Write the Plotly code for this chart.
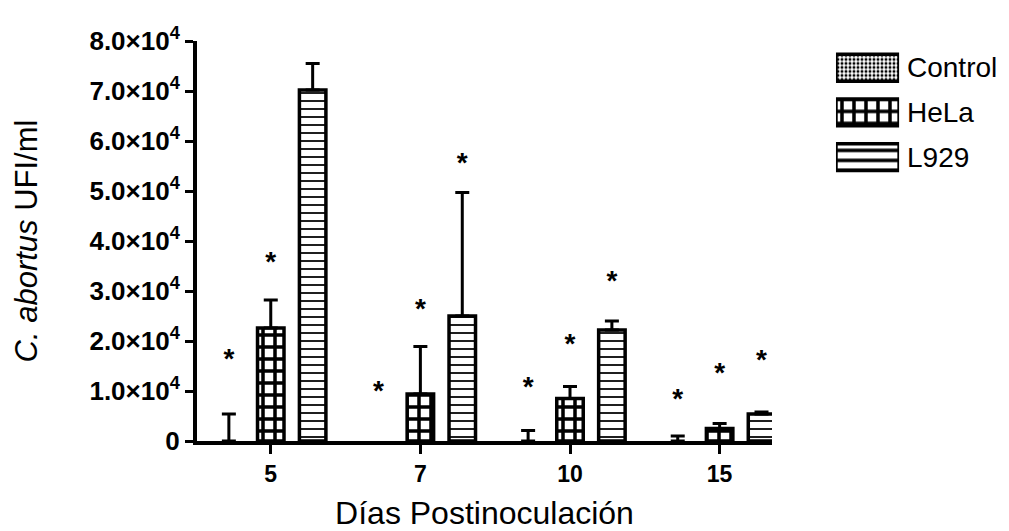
import numpy as np
import plotly.graph_objects as go

# ---- data ----
days = ["5", "7", "10", "15"]
series = ["Control", "HeLa", "L929"]
control_mean = [0, None, 0, 0]
control_err = [5400, 0, 2100, 1000]
hela_mean = [22600, 9400, 8500, 2500]
hela_err = [5600, 9500, 2400, 1000]
l929_mean = [70200, 25000, 22200, 5400]
l929_err = [5300, 24700, 1800, 400]
control_star = [16000, 9700, 10400, 8000]
hela_star = [35400, 26000, 19000, 13300]
l929_star = [83000, 55300, 31700, 15800]
y_tickvals = [0, 10000, 20000, 30000, 40000, 50000, 60000, 70000, 80000]
y_ticktext = ["0"] + [f"{v}.0×10<sup>4</sup>" for v in range(1, 9)]

means = [control_mean, hela_mean, l929_mean]
errs = [control_err, hela_err, l929_err]
stars = [control_star, hela_star, l929_star]
patterns = [
    dict(shape=".", size=4, solidity=0.45, fgcolor="black", bgcolor="white", fillmode="replace"),
    dict(shape="+", size=12, solidity=0.5, fgcolor="black", bgcolor="white", fillmode="replace"),
    dict(shape="-", size=8, solidity=0.22, fgcolor="black", bgcolor="white", fillmode="replace"),
]
legend_patterns = [
    dict(shape=".", size=4, solidity=0.45, fgcolor="black", bgcolor="white", fillmode="replace"),
    dict(shape="+", size=12, solidity=0.5, fgcolor="black", bgcolor="white", fillmode="replace"),
    dict(shape="-", size=10, solidity=0.35, fgcolor="black", bgcolor="white", fillmode="replace"),
]

base = np.arange(len(days))
slot = 0.28
bar_w = 0.177

fig = go.Figure()
for k in range(3):
    xs = base + (k - 1) * slot
    line_w = [3.5 if (v or 0) > 0 else 0 for v in means[k]]
    fig.add_trace(go.Bar(
        x=xs, y=means[k], width=bar_w, name=series[k],
        marker=dict(color="white", pattern=patterns[k], line=dict(color="black", width=line_w)),
        error_y=dict(type="data", symmetric=False, array=errs[k], arrayminus=[0] * len(days),
                     color="black", thickness=3, width=7),
        showlegend=False, cliponaxis=False,
    ))
for k in range(3):
    xs = base + (k - 1) * slot
    fig.add_trace(go.Scatter(
        x=xs, y=stars[k], mode="text", text=["*"] * len(days),
        textposition="middle center",
        textfont=dict(family="Liberation Sans", size=28, color="black", weight="bold"),
        showlegend=False, cliponaxis=False, hoverinfo="skip",
    ))

# custom legend drawn as bars on an auxiliary axis
for k in range(3):
    fig.add_trace(go.Bar(
        x=[1], y=[k], orientation="h", width=0.6, xaxis="x2", yaxis="y2",
        marker=dict(color="white", pattern=legend_patterns[k], line=dict(color="black", width=3.5)),
        showlegend=False, hoverinfo="skip",
    ))
    fig.add_annotation(x=0.877, xref="paper", y=k, yref="y2", text=series[k],
                       showarrow=False, xanchor="left", yanchor="middle",
                       font=dict(family="Liberation Sans", size=28, color="black"))

fig.update_layout(
    width=1009, height=531,
    margin=dict(l=197, r=5, t=41, b=90, autoexpand=False),
    paper_bgcolor="white", plot_bgcolor="white",
    barmode="overlay",
    font=dict(family="Liberation Sans", color="black"),
    xaxis=dict(
        domain=[0, 0.7125], range=[-0.493, 3.35], automargin=False,
        tickvals=list(base), ticktext=days,
        showline=True, linecolor="black", linewidth=4,
        ticks="outside", ticklen=9, tickwidth=3, tickcolor="black",
        tickfont=dict(family="Liberation Sans", size=23, color="black", weight="bold"),
        showgrid=False, zeroline=False,
        title=dict(text="Días Postinoculación", standoff=26,
                   font=dict(family="Liberation Sans", size=32, color="black")),
    ),
    yaxis=dict(
        range=[0, 80000], tickvals=y_tickvals, ticktext=y_ticktext, automargin=False,
        showline=True, linecolor="black", linewidth=4,
        ticks="outside", ticklen=8, tickwidth=3, tickcolor="black",
        tickfont=dict(family="Liberation Sans", size=26, color="black", weight="bold"),
        showgrid=False, zeroline=False,
        title=dict(text="<i>C. abortus</i> UFI/ml", standoff=44,
                   font=dict(family="Liberation Sans", size=31, color="black")),
    ),
    xaxis2=dict(domain=[0.7918, 0.870], range=[0, 1], visible=False, fixedrange=True),
    yaxis2=dict(domain=[0.654, 0.989], range=[2.5, -0.5], visible=False, fixedrange=True),
)

fig.write_html("out.html", config={"displayModeBar": False},
               post_script="document.body.style.margin='0px';document.body.style.overflow='hidden';")
